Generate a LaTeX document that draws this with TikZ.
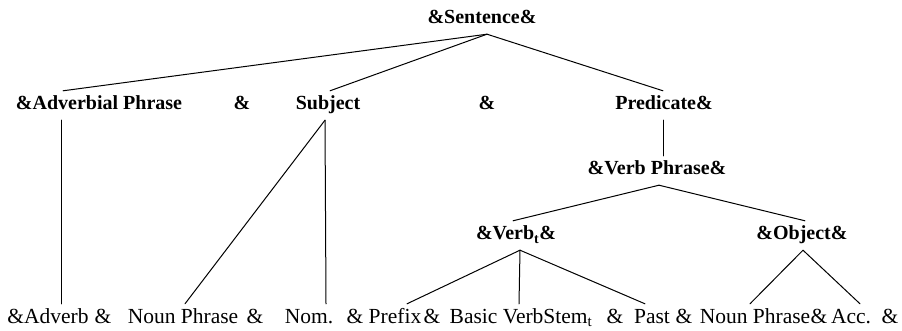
\documentclass[tikz,border=0pt]{standalone}
\usepackage{fontspec}
\setmainfont{Liberation Serif}
\tikzset{
  phrase/.style={anchor=base,inner xsep=0pt,inner ysep=6pt,text height=13pt,
    text depth=4pt,font=\fontsize{20}{24}\selectfont\bfseries},
  word/.style={phrase,font=\fontsize{21.5}{25}\selectfont},
  branch/.style={line width=1pt,black,line cap=round}
}
\begin{document}
\begin{tikzpicture}[x=1pt,y=-1pt]
      \useasboundingbox (0,0) rectangle (902,331);
      \node[phrase] (sentence) at (482,24) {\&Sentence\&};
      \node[phrase] (adverbial) at (99,110) {\&Adverbial Phrase};
      \node[phrase] (sepa) at (242,110) {\&};
      \node[phrase] (subject) at (328,110) {Subject};
      \node[phrase] (sepb) at (487,110) {\&};
      \node[phrase] (predicate) at (664,110) {Predicate\&};
      \node[phrase] (verbphrase) at (657,175) {\&Verb Phrase\&};
      \node[phrase] (verbt) at (516,240) {\&Verb\textsubscript{t}\&};
      \node[phrase] (object) at (802,240) {\&Object\&};
      \node[word] (adverb) at (48,323) {\&Adverb};
      \node[word] (sep1) at (103,323) {\&};
      \node[word] (nounphrase) at (183,323) {Noun Phrase};
      \node[word] (sep2) at (255,323) {\&};
      \node[word] (nom) at (309,323) {Nom.};
      \node[word] (sep3) at (355,323) {\&};
      \node[word] (prefix) at (395,323) {Prefix};
      \node[word] (sep4) at (432,323) {\&};
      \node[word] (stem) at (521,323) {Basic VerbStem\textsubscript{t}};
      \node[word] (sep5) at (615,323) {\&};
      \node[word] (past) at (652,323) {Past};
      \node[word] (sep6) at (684,323) {\&};
      \node[word] (objnoun) at (755,323) {Noun Phrase};
      \node[word] (sep7) at (819,323) {\&};
      \node[word] (acc) at (851,323) {Acc.};
      \node[word] (sep8) at (890,323) {\&};
      \draw[branch] ([xshift=5pt]sentence.south) -- ([xshift=-36pt]adverbial.north);
      \draw[branch] ([xshift=5pt]sentence.south) -- ([xshift=2pt]subject.north);
      \draw[branch] ([xshift=5pt]sentence.south) -- ([xshift=-1pt]predicate.north);
      \draw[branch] ([xshift=-38pt]adverbial.south) -- ([xshift=13pt]adverb.north);
      \draw[branch] ([xshift=-3pt]subject.south) -- ([xshift=2pt]nounphrase.north);
      \draw[branch] ([xshift=-3pt]subject.south) -- ([xshift=17pt]nom.north);
      \draw[branch] ([xshift=-1pt]predicate.south) -- ([xshift=6pt]verbphrase.north);
      \draw[branch] ([xshift=2pt]verbphrase.south) -- ([xshift=-3pt]verbt.north);
      \draw[branch] ([xshift=2pt]verbphrase.south) -- ([xshift=3pt]object.north);
      \draw[branch] ([xshift=4pt]verbt.south) -- ([xshift=12pt]prefix.north);
      \draw[branch] ([xshift=4pt]verbt.south) -- ([xshift=-2pt]stem.north);
      \draw[branch] ([xshift=4pt]verbt.south) -- ([xshift=-7pt]past.north);
      \draw[branch] ([xshift=1pt]object.south) -- ([xshift=-5pt]objnoun.north);
      \draw[branch] ([xshift=1pt]object.south) -- ([xshift=9pt]acc.north);
    \end{tikzpicture}
\end{document}
